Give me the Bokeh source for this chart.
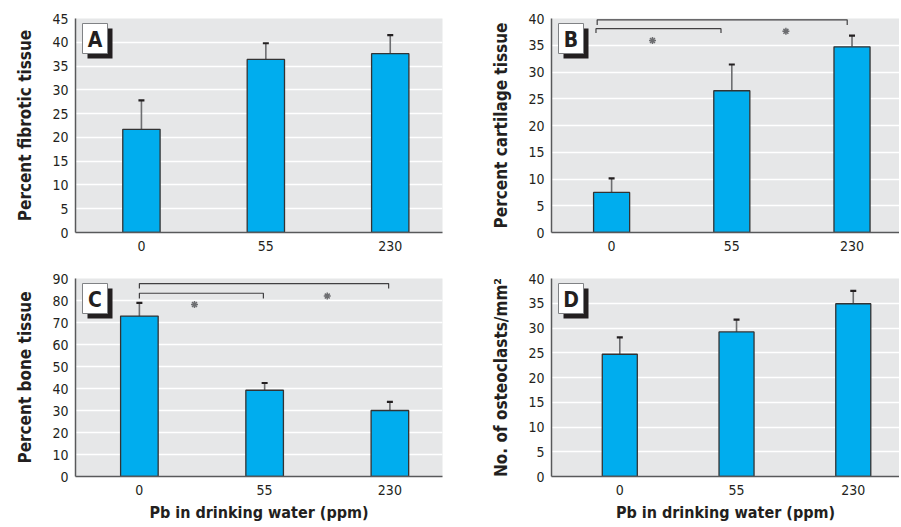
from bokeh.plotting import figure
from bokeh.layouts import column, row
from bokeh.models import ColumnDataSource, FixedTicker, Range1d, Whisker, TeeHead
from bokeh.embed import file_html
from bokeh.resources import INLINE
from bokeh.core.properties import value

# ---------------- data ----------------
doses = ["0", "55", "230"]

fibrotic = [21.7, 36.4, 37.6]
fibrotic_err = [6.1, 3.4, 3.9]

cartilage = [7.5, 26.5, 34.7]
cartilage_err = [2.6, 4.9, 2.1]

bone = [72.9, 39.2, 30.0]
bone_err = [6.0, 3.3, 3.9]

osteoclasts = [24.7, 29.2, 34.9]
osteoclasts_err = [3.4, 2.5, 2.6]

# significance comparisons: (from group, to group)
sig_B = [(0, 2), (0, 1)]
sig_C = [(0, 2), (0, 1)]

FONT = "Liberation Sans Narrow, DejaVu Sans Condensed, sans-serif"
TXT = "#231F20"
BAR = "#00ADEE"
BG = "#E6E7E8"
AX = "#58595B"


def make_panel(vals, errs, ylab, ymax, ystep, xr, letter, w, h, bl, br, bt, bb,
               xtitle=None, frame_w=None, frame_h=None):
    p = figure(width=w, height=h, output_backend="svg", toolbar_location=None,
               x_range=Range1d(*xr), y_range=Range1d(0, ymax),
               min_border_left=bl, min_border_right=br,
               min_border_top=bt, min_border_bottom=bb,
               background_fill_color=BG, border_fill_color="white",
               outline_line_color=None)
    xs = list(range(len(doses)))
    tops = [v + e for v, e in zip(vals, errs)]
    src = ColumnDataSource(dict(x=xs, v=vals, t=tops))
    p.vbar(x="x", top="v", bottom=0, width=0.3, source=src,
           fill_color=BAR, line_color="#333333", line_width=1.3)
    wh = Whisker(source=src, base="x", lower="v", upper="t",
                 line_color="#6D6E71", line_width=1.6,
                 upper_head=TeeHead(size=6, line_color=TXT, line_width=2.2),
                 lower_head=None, level="underlay")
    p.add_layout(wh)

    p.xgrid.visible = False
    p.ygrid.grid_line_color = "white"
    p.ygrid.grid_line_width = 1.5
    p.ygrid.ticker = FixedTicker(ticks=list(range(0, ymax + 1, ystep)))

    p.yaxis.ticker = FixedTicker(ticks=list(range(0, ymax + 1, ystep)))
    p.xaxis.ticker = FixedTicker(ticks=xs)
    p.xaxis.major_label_overrides = {i: d for i, d in enumerate(doses)}
    for ax in (p.xaxis, p.yaxis):
        ax.axis_line_color = AX
        ax.axis_line_width = 1.5
        ax.major_tick_out = 0
        ax.major_tick_in = 0
        ax.minor_tick_out = 0
        ax.minor_tick_in = 0
        ax.major_label_text_font = FONT
        ax.major_label_text_font_size = "14px"
        ax.major_label_text_color = TXT
        ax.axis_label_text_font = FONT
        ax.axis_label_text_font_style = "bold"
        ax.axis_label_text_color = TXT
    p.yaxis.major_label_standoff = 7
    p.xaxis.major_label_standoff = 8
    p.yaxis.axis_label = ylab
    p.yaxis.axis_label_text_font_size = "17px"
    p.yaxis.axis_label_standoff = 14
    if xtitle:
        p.xaxis.axis_label = xtitle
        p.xaxis.axis_label_text_font_size = "16px"
        p.xaxis.axis_label_standoff = 5

    # panel letter box (placed by frame pixel offsets)
    def px_x(off):
        return xr[0] + off / frame_w * (xr[1] - xr[0])

    def px_y(off):
        return ymax - off / frame_h * ymax

    bx0, bx1, by0, by1 = 7, 32, 5, 35
    sh = 5
    p.quad(left=[px_x(bx0 + sh)], right=[px_x(bx1 + sh)],
           top=[px_y(by0 + sh)], bottom=[px_y(by1 + sh)],
           fill_color="#231F20", line_color=None)
    p.quad(left=[px_x(bx0)], right=[px_x(bx1)],
           top=[px_y(by0)], bottom=[px_y(by1)],
           fill_color="white", line_color="#808285", line_width=1)
    p.text(x=[px_x((bx0 + bx1) / 2)], y=[px_y((by0 + by1) / 2 + 1)], text=[letter],
           text_font=value(FONT), text_font_style="bold", text_font_size="21px",
           text_color=TXT, text_align="center", text_baseline="middle")
    return p


def add_sig(p, pairs, levels, ticks, xoffs, stars):
    xsl, ysl = [], []
    for (i, j), lv, tk, (dl, dr) in zip(pairs, levels, ticks, xoffs):
        xsl.append([i + dl, i + dl, j + dr, j + dr])
        ysl.append([lv - tk, lv, lv, lv - tk])
    p.multi_line(xs=xsl, ys=ysl, line_color="#414042", line_width=1.2)
    p.scatter(x=[s[0] for s in stars], y=[s[1] for s in stars], marker="asterisk",
              size=7, line_color="#6D6E71", line_width=1.5)


FW_L, FW_R = 367, 348
FH_T, FH_B = 214, 198

xr_A = (-0.53, 2.42)
xr_C = (-0.51, 2.42)
xr_B = (-0.5, 2.395)
xr_D = (-0.585, 2.396)

pA = make_panel(fibrotic, fibrotic_err, "Percent fibrotic tissue", 45, 5, xr_A, "A",
                480, 268, 75, 38, 18, 36, frame_w=FW_L, frame_h=FH_T)
pB = make_panel(cartilage, cartilage_err, "Percent cartilage tissue", 40, 5, xr_B, "B",
                419, 268, 71, 0, 18, 36, frame_w=FW_R, frame_h=FH_T)
pC = make_panel(bone, bone_err, "Percent bone tissue", 90, 10, xr_C, "C",
                480, 258, 75, 38, 10, 50, xtitle="Pb in drinking water (ppm)",
                frame_w=FW_L, frame_h=FH_B)
pD = make_panel(osteoclasts, osteoclasts_err, "No. of osteoclasts/mm²", 40, 5, xr_D, "D",
                419, 258, 71, 0, 10, 50, xtitle="Pb in drinking water (ppm)",
                frame_w=FW_R, frame_h=FH_B)

add_sig(pB, sig_B, [39.75, 38.1], [0.95, 0.8], [(-0.12, -0.04), (-0.13, -0.09)],
        [(0.34, 35.9), (1.45, 37.6)])
add_sig(pC, sig_C, [87.7, 83.3], [2.3, 2.4], [(0.0, -0.01), (0.0, -0.01)],
        [(0.44, 78.2), (1.5, 82.0)])

layout = column(row(pA, pB), row(pC, pD))
open("out.html", "w").write(file_html(layout, INLINE))
